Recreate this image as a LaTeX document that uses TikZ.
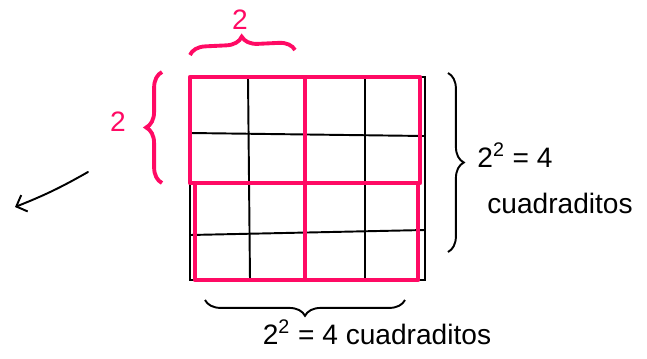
\documentclass[tikz,border=0pt]{standalone}
\usepackage{fontspec}
\setmainfont{Liberation Sans}
\usetikzlibrary{decorations.pathreplacing,arrows.meta}
\definecolor{rosa}{RGB}{255,10,100}

\begin{document}
\begin{tikzpicture}[x=0.02cm,y=-0.02cm,
  every node/.style={font=\fontsize{16}{18}\selectfont},
  fino/.style={line width=1.1pt,line cap=round},
  grueso/.style={rosa,line width=2.6pt,line join=round},
  llave/.style={decorate,decoration={brace,amplitude=9pt},line width=1.1pt}]
 \useasboundingbox (0,0) rectangle (647,359);
 % cuadricula 4x4
 \draw[fino] (190,77) rectangle (425,280);
 \draw[fino] (248,77)--(250,280); \draw[fino] (365,77)--(365,280);
 \draw[fino] (190,133)--(425,136); \draw[fino] (190,235)--(425,230);
 % cuadrados de 2x2
 \draw[grueso] (190,77) rectangle (305,183);
 \draw[grueso] (305,77) rectangle (420,183);
 \draw[grueso] (195,183) rectangle (305,280);
 \draw[grueso] (305,183) rectangle (418,280);
 % llaves
 \draw[llave,rosa,line width=2.2pt] (190,55) -- (295,50);
 \node[rosa] (arriba) at (240,20) {2};
 \draw[llave,rosa,line width=2.2pt] (162,183) -- (162,72);
 \node[rosa] (izq) at (118,122) {2};
 \draw[llave] (448,73) -- (448,252);
 \node (der1) at (515,155) {2\textsuperscript{2} = 4};
 \node (der2) at (560,203) {cuadraditos};
 \draw[llave] (405,300) -- (205,300);
 \node (abajo) at (377,332) {2\textsuperscript{2} = 4 cuadraditos};
 % flecha
 \coordinate (f1) at (88,172);
 \coordinate (f2) at (15,207);
 \draw[fino,-{Straight Barb[length=5pt]}] (f1) to[bend left=4] (f2);
\end{tikzpicture}
\end{document}
